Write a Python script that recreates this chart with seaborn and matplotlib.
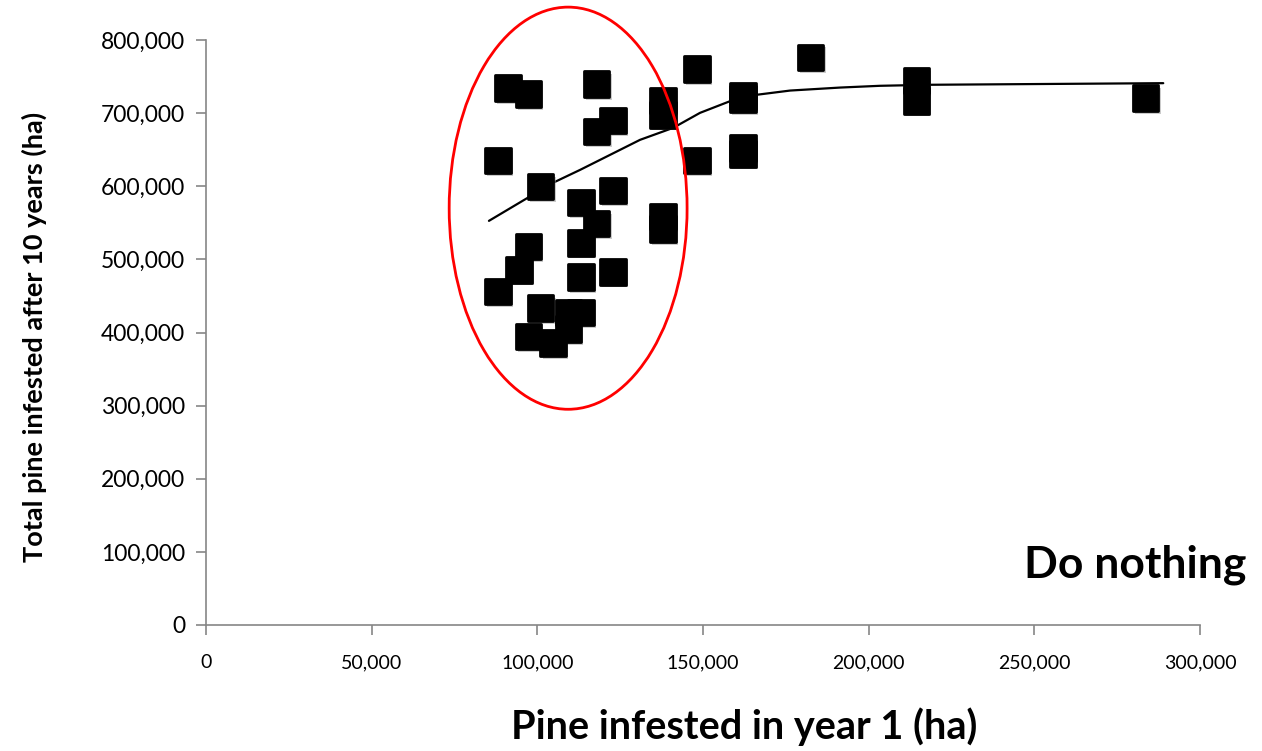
import pandas as pd
import matplotlib.pyplot as plt
import matplotlib.patheffects as pe
from matplotlib.patches import Ellipse
from matplotlib.ticker import FuncFormatter
import seaborn as sns

# Pine infested in year 1 (ha) and total after 10 years (ha)
year1 = [91200, 97300, 117900, 137900, 137900, 122900, 117900, 88100, 101000,
         122900, 113100, 117900, 113100, 137900, 137900, 97300, 94400, 88100,
         113100, 122900, 101000, 109400, 113100, 109400, 97300, 104800,
         148100, 148100, 162000, 162000, 162000, 162000, 182500, 214400,
         214400, 283600]
after10 = [734000, 726000, 739700, 717200, 697700, 689900, 674800, 635200, 599600,
           594100, 577700, 549000, 522600, 558600, 541300, 517500, 485600, 456000,
           475600, 482900, 433200, 427200, 427200, 404500, 394400, 385400,
           760100, 635200, 723700, 719200, 652100, 644300, 776100, 744600,
           716800, 720500]

# trend line, points
trend_x = [85400, 104700, 112900, 131000, 141000, 149100, 157900, 166000,
           176300, 191400, 203400, 218500, 288900]
trend_y = [552700, 604700, 622400, 663500, 679900, 700400, 715900, 725000,
           730900, 735000, 737400, 738800, 741000]

x_ticks = [0, 50000, 100000, 150000, 200000, 250000, 300000]
y_ticks = [0, 100000, 200000, 300000, 400000, 500000, 600000, 700000, 800000]

df = pd.DataFrame({"year1": year1, "after10": after10})
trend = pd.DataFrame({"x": trend_x, "y": trend_y})

sns.set_style("white")
plt.rcParams["font.family"] = ["Lato", "DejaVu Sans"]
plt.rcParams["text.color"] = "black"
plt.rcParams["xtick.color"] = "black"
plt.rcParams["ytick.color"] = "black"
plt.rcParams["axes.labelcolor"] = "black"

fig = plt.figure(figsize=(12.62, 7.51), dpi=100)
ax = fig.add_axes([0.1632, 0.1678, 0.9509 - 0.1632, 0.9467 - 0.1678])

shadow = [pe.SimplePatchShadow(offset=(1.5, -2), shadow_rgbFace="0.6", alpha=0.5), pe.Normal()]

sns.lineplot(data=trend, x="x", y="y", ax=ax, color="black", linewidth=1.6,
             sort=True, zorder=2)
sns.scatterplot(data=df, x="year1", y="after10", ax=ax, marker="s", s=340,
                color="black", edgecolor="black", linewidth=2, zorder=3,
                path_effects=shadow)

# red ellipse around the low-infestation cluster
ell = Ellipse((109300, 570000), 71800, 550000, fill=False, edgecolor="red",
              linewidth=2, clip_on=False, zorder=4)
ax.add_patch(ell)

ax.set_xlim(0, 300000)
ax.set_ylim(0, 800000)
ax.set_xticks(x_ticks)
ax.set_yticks(y_ticks)
fmt = FuncFormatter(lambda v, p: f"{int(v):,}")
ax.xaxis.set_major_formatter(fmt)
ax.yaxis.set_major_formatter(fmt)

for s in ["top", "right"]:
    ax.spines[s].set_visible(False)
for s in ["left", "bottom"]:
    ax.spines[s].set_color("#868686")
    ax.spines[s].set_linewidth(1.2)

ax.tick_params(axis="both", direction="out", length=7, width=1.2, color="#868686",
               labelcolor="black", bottom=True, left=True)
ax.tick_params(axis="y", labelsize=16.5, pad=8)
ax.tick_params(axis="x", labelsize=14, pad=14)

ax.set_xlabel("Pine infested in year 1 (ha)", fontsize=28.5, fontweight="bold", labelpad=26)
ax.xaxis.label.set_x(0.541)
ax.set_ylabel("Total pine infested after 10 years (ha)", fontsize=19.5, fontweight="bold",
              labelpad=39)
ax.yaxis.label.set_y(0.493)

ax.text(1.047, 0.103, "Do nothing", transform=ax.transAxes, ha="right", va="center",
        fontsize=32, fontweight="bold")

fig.savefig("out.png", dpi=100)
